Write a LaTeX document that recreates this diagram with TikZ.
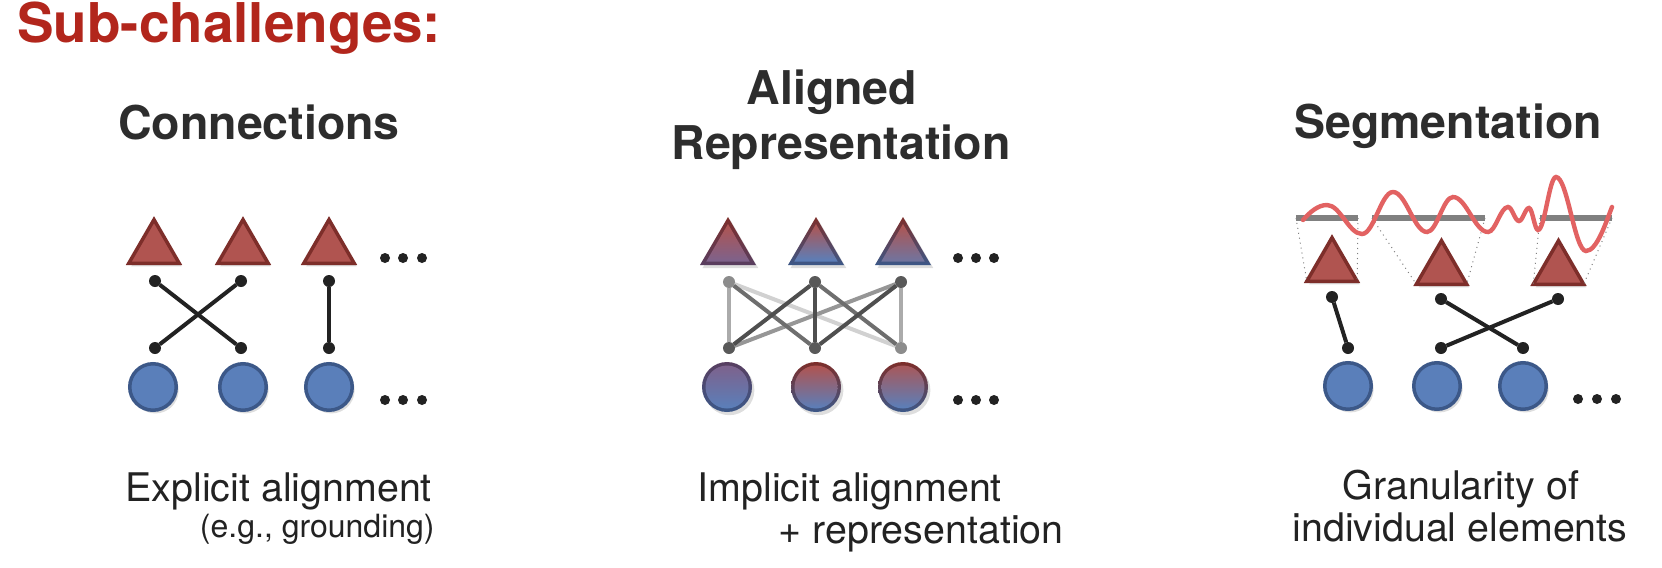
\documentclass[tikz,border=0pt]{standalone}
\usepackage{fontspec}
\setmainfont{TeX Gyre Heros}
\definecolor{tri}{RGB}{176,84,80}
\definecolor{trib}{RGB}{125,46,42}
\definecolor{cir}{RGB}{90,127,186}
\definecolor{cirb}{RGB}{60,88,136}
\definecolor{dotc}{RGB}{34,34,34}
\definecolor{wavec}{RGB}{226,98,98}
\definecolor{barc}{RGB}{128,128,128}
\definecolor{titlec}{RGB}{45,45,45}
\definecolor{capc}{RGB}{34,34,34}
\definecolor{headc}{RGB}{178,38,28}
\definecolor{purp}{RGB}{125,98,140}
\definecolor{purpb}{RGB}{88,62,96}
\begin{document}
\begin{tikzpicture}[x=0.5pt,y=-0.5pt,
  shad/.style={preaction={fill=black, opacity=0.13, transform canvas={shift={(1.2pt,-1.6pt)}}}},
  pics/redtri/.style={code={
    \draw[fill=tri, draw=trib, line width=1.75pt, line join=miter, shad]
      (-25.2,0) coordinate (-bl) -- (0,-43.6) coordinate (-ap) -- (25.2,0) coordinate (-br) -- cycle;}},
  cirbox/.style={circle, minimum size=23.25pt, inner sep=0pt, fill=cir, draw=cirb, line width=1.75pt, shad},
  ciro/.style={circle, minimum size=25pt, inner sep=0pt, shad},
  cirii/.style={circle, minimum size=21.5pt, inner sep=0pt},
  dotbox/.style={circle, minimum size=6pt, inner sep=0pt, outer sep=0pt, fill=dotc},
  edot/.style={circle, minimum size=5pt, inner sep=0pt, fill=dotc},
  conn/.style={line width=2pt, draw=dotc},
  gconn/.style={line width=2pt},
  barline/.style={line width=3pt, draw=barc},
  dotl/.style={line width=0.5pt, draw=black!50, dotted},
  headtxt/.style={inner sep=0pt, text=headc, font=\fontsize{27.4pt}{32pt}\selectfont\bfseries},
  ttltxt/.style={inner sep=0pt, text=titlec, font=\fontsize{23.25pt}{28pt}\selectfont\bfseries},
  captxt/.style={inner sep=0pt, text=capc, font=\fontsize{19.7pt}{23pt}\selectfont},
  capsmall/.style={inner sep=0pt, text=capc, font=\fontsize{16pt}{20pt}\selectfont}
]
\useasboundingbox (0,0) rectangle (1662,568);
\fill[white] (0,0) rectangle (1662,568);

% ---------- texts ----------
\node[headtxt, anchor=base west] (hd) at (17,42) {Sub-challenges:};
\node[ttltxt, anchor=base] (t1) at (259,139) {Connections};
\node[ttltxt, anchor=base] (t2a) at (832,104) {Aligned};
\node[ttltxt, anchor=base] (t2b) at (841,159) {Representation};
\node[ttltxt, anchor=base] (t3) at (1448,138) {Segmentation};
\node[captxt, anchor=base west] (c1a) at (125,501) {Explicit alignment};
\node[capsmall, anchor=base east] (c1b) at (435,537) {(e.g., grounding)};
\node[captxt, anchor=base west] (c2a) at (697,501) {Implicit alignment};
\node[captxt, anchor=base east] (c2b) at (1064,543) {+ representation};
\node[captxt, anchor=base] (c3a) at (1461,499) {Granularity of};
\node[captxt, anchor=base] (c3b) at (1460,541) {individual elements};

% ---------- panel 1 ----------
\pic (p1t1) at (154,263.25) {redtri};
\pic (p1t2) at (243,263.25) {redtri};
\pic (p1t3) at (329,263.25) {redtri};
\node[dotbox] (p1u1) at (155,281) {};
\node[dotbox] (p1u2) at (241,281) {};
\node[dotbox] (p1u3) at (329,281) {};
\node[dotbox] (p1l1) at (155,348) {};
\node[dotbox] (p1l2) at (241,348) {};
\node[dotbox] (p1l3) at (329,348) {};
\draw[conn] (p1u1) -- (p1l2);
\draw[conn] (p1u2) -- (p1l1);
\draw[conn] (p1u3) -- (p1l3);
\node[cirbox] (p1c1) at (153,387) {};
\node[cirbox] (p1c2) at (243,387) {};
\node[cirbox] (p1c3) at (329,387) {};
\node[edot] (p1e1) at (385,258) {};
\node[edot] (p1e2) at (403,258) {};
\node[edot] (p1e3) at (422,258) {};
\node[edot] (p1f1) at (385,400) {};
\node[edot] (p1f2) at (403,400) {};
\node[edot] (p1f3) at (422,400) {};

% ---------- panel 2 ----------
\begin{scope}[shift={(728,265)}]
\shade[top color=trib, middle color=trib!70!purpb, bottom color=purpb, shad] (-28,0) -- (0,-48) -- (28,0) -- cycle;
\shade[top color=tri, middle color=tri!80!purp, bottom color=purp] (-21.7,-3.5) -- (0,-41) -- (21.7,-3.5) -- cycle;
\end{scope}
\begin{scope}[shift={(816,265)}]
\shade[top color=trib, bottom color=cirb, shad] (-28,0) -- (0,-48) -- (28,0) -- cycle;
\shade[top color=tri, middle color=tri!50!cir, bottom color=cir] (-21.7,-3.5) -- (0,-41) -- (21.7,-3.5) -- cycle;
\end{scope}
\begin{scope}[shift={(903,265)}]
\shade[top color=trib, middle color=trib!75!cirb, bottom color=cirb, shad] (-28,0) -- (0,-48) -- (28,0) -- cycle;
\shade[top color=tri, middle color=tri!88!cir, bottom color=cir!75!tri] (-21.7,-3.5) -- (0,-41) -- (21.7,-3.5) -- cycle;
\end{scope}
\node[dotbox, fill=black!45] (p2u1) at (729,282) {};
\node[dotbox, fill=black!65] (p2u2) at (815,282) {};
\node[dotbox, fill=black!65] (p2u3) at (901,282) {};
\node[dotbox, fill=black!65] (p2l1) at (729,348) {};
\node[dotbox, fill=black!65] (p2l2) at (815,348) {};
\node[dotbox, fill=black!45] (p2l3) at (901,348) {};
\draw[gconn, black!18] (p2u1) -- (p2l3);
\draw[gconn, black!33] (p2u1) -- (p2l1);
\draw[gconn, black!33] (p2u3) -- (p2l3);
\draw[gconn, black!41] (p2u3) -- (p2l1);
\draw[gconn, black!57] (p2u1) -- (p2l2);
\draw[gconn, black!57] (p2u2) -- (p2l3);
\draw[gconn, black!69] (p2u2) -- (p2l1);
\draw[gconn, black!69] (p2u2) -- (p2l2);
\draw[gconn, black!69] (p2u3) -- (p2l2);
\node[ciro, top color=purpb, middle color=cirb, bottom color=cirb] (p2c1o) at (727,387) {};
\node[cirii, top color=purp, middle color=cir, bottom color=cir] (p2c1) at (727,387) {};
\node[ciro, top color=trib, middle color=cirb, bottom color=cirb] (p2c2o) at (816,387) {};
\node[cirii, top color=tri, middle color=cir, bottom color=cir] (p2c2) at (816,387) {};
\node[ciro, top color=trib, middle color=cirb, bottom color=cirb] (p2c3o) at (903,387) {};
\node[cirii, top color=tri!90!cir, middle color=cir, bottom color=cir] (p2c3) at (903,387) {};
\node[edot] (p2e1) at (958,258) {};
\node[edot] (p2e2) at (976,258) {};
\node[edot] (p2e3) at (994,258) {};
\node[edot] (p2f1) at (958,400) {};
\node[edot] (p2f2) at (976,400) {};
\node[edot] (p2f3) at (994,400) {};

% ---------- panel 3 ----------
\coordinate (s1a) at (1296,218);
\coordinate (s1b) at (1358,218);
\coordinate (s2a) at (1372,218);
\coordinate (s2b) at (1485,218);
\coordinate (s3a) at (1540,218);
\coordinate (s3b) at (1612,218);
\pic (p3t1) at (1332,281.25) {redtri};
\pic (p3t2) at (1441.5,284.25) {redtri};
\pic (p3t3) at (1558.5,284.25) {redtri};
\draw[dotl] (s1a) -- (p3t1-bl);
\draw[dotl] (s1b) -- (p3t1-br);
\draw[dotl] (s2a) -- (p3t2-bl);
\draw[dotl] (s2b) -- (p3t2-br);
\draw[dotl] (s3a) -- (p3t3-bl);
\draw[dotl] (s3b) -- (p3t3-br);
\draw[barline] (s1a) -- (s1b);
\draw[barline] (s2a) -- (s2b);
\draw[barline] (s3a) -- (s3b);
\draw[wavec, line width=2.2pt, line cap=round]
  (1303,220) .. controls (1310,212) and (1318,205) .. (1327,205)
  .. controls (1340.3,205) and (1348.7,234) .. (1362,234)
  .. controls (1373.8,234) and (1381.2,192) .. (1393,192)
  .. controls (1405.9,192) and (1414.1,232) .. (1427,232)
  .. controls (1436.9,232) and (1443.1,197) .. (1453,197)
  .. controls (1466.3,197) and (1474.7,232) .. (1488,232)
  .. controls (1495.6,232) and (1500.4,207) .. (1508,207)
  .. controls (1512.2,207) and (1514.8,221) .. (1519,221)
  .. controls (1522.8,221) and (1525.2,208) .. (1529,208)
  .. controls (1532.4,208) and (1534.6,230) .. (1538,230)
  .. controls (1544.8,230) and (1549.2,177) .. (1556,177)
  .. controls (1567.4,177) and (1574.6,251) .. (1586,251)
  .. controls (1597,251) and (1606,222) .. (1612,207);
\node[dotbox] (p3u1) at (1332,297) {};
\node[dotbox] (p3u2) at (1441,299) {};
\node[dotbox] (p3u3) at (1558,299) {};
\node[dotbox] (p3l1) at (1348,348) {};
\node[dotbox] (p3l2) at (1441,348) {};
\node[dotbox] (p3l3) at (1523,348) {};
\draw[conn] (p3u1) -- (p3l1);
\draw[conn] (p3u2) -- (p3l3);
\draw[conn] (p3u3) -- (p3l2);
\node[cirbox] (p3c1) at (1348,386) {};
\node[cirbox] (p3c2) at (1437,386) {};
\node[cirbox] (p3c3) at (1523,386) {};
\node[edot] (p3e1) at (1578,399) {};
\node[edot] (p3e2) at (1597,399) {};
\node[edot] (p3e3) at (1616,399) {};
\end{tikzpicture}
\end{document}
